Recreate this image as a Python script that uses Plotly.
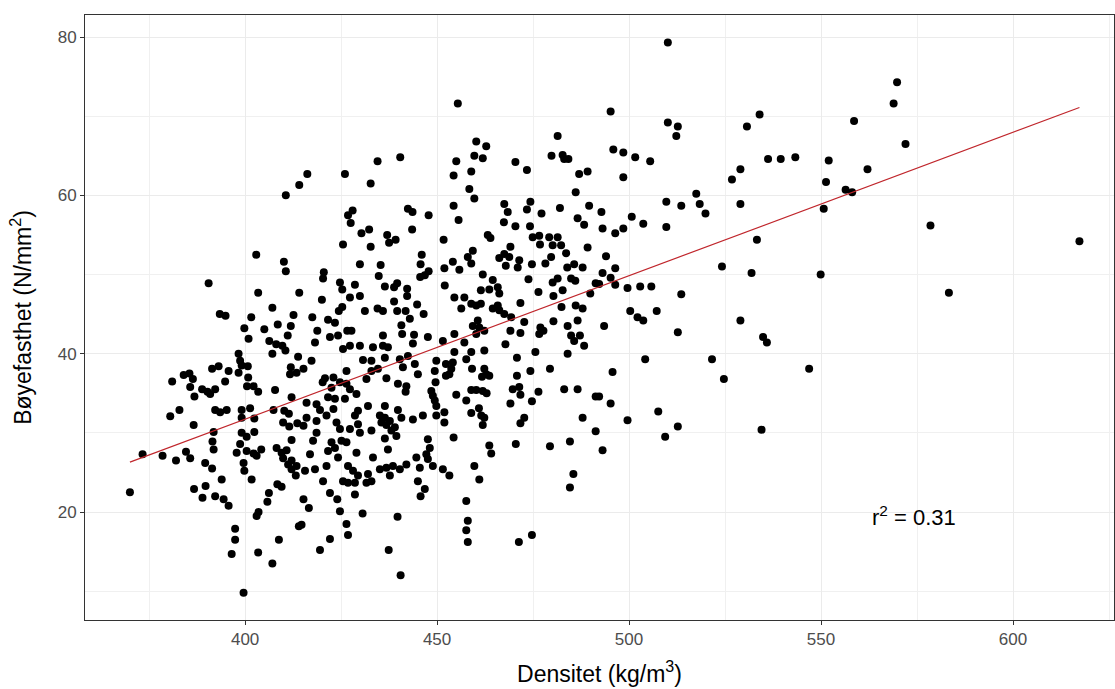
import plotly.graph_objects as go

# ---- data ----
density = [
410.6,414.1,402.9,410.1,410.6,390.5,403.4,414.1,407.1,393.4,394.9,401.6,412.6,408.5,411.9,399.8,405.0,400.9,411.1,406.3,
408.1,409.7,410.5,407.1,413.8,398.3,398.7,399.1,400.7,393.1,391.4,395.7,398.3,411.9,411.7,413.4,384.0,385.5,386.4,381.0,
394.8,400.8,400.5,402.2,385.7,388.8,390.2,392.2,390.9,386.8,403.4,407.8,412.1,
382.9,380.5,386.6,392.2,393.5,395.2,399.1,401.3,399.1,402.4,407.4,410.2,411.4,409.9,411.5,413.6,391.8,399.1,402.4,400.4,
412.1,391.5,373.3,378.5,382.0,384.6,385.7,391.8,397.8,398.7,400.4,402.2,404.2,403.0,408.2,409.5,410.8,409.9,412.1,411.2,
413.4,412.1,413.2,389.6,391.4,399.6,399.8,393.9,401.7,386.7,389.7,388.9,392.2,394.4,395.7,370.0,406.2,408.4,409.5,405.8,
403.5,403.0,397.4,397.4,396.5,403.4,408.8,407.1,414.0,399.6,
416.2,426.0,434.5,440.4,432.7,428.0,426.8,427.5,430.3,432.3,425.5,432.7,437.0,437.5,439.2,442.4,443.6,447.8,443.5,451.7,
446.0,445.7,447.8,446.8,445.6,451.9,452.0,429.9,435.3,434.8,420.5,420.3,424.7,425.3,428.6,436.4,438.8,439.6,442.2,442.2,
420.0,427.3,429.9,438.8,444.8,424.4,425.3,431.2,434.5,435.9,439.6,441.8,446.5,417.5,421.6,423.4,440.7,442.9,418.8,426.6,
427.7,418.2,422.1,424.2,435.9,440.9,444.0,443.7,447.6,427.3,429.9,433.3,435.9,437.2,425.5,451.5,
417.3,415.2,420.8,420.2,423.0,426.4,424.7,422.5,426.4,427.3,429.0,426.0,423.4,421.6,418.6,416.0,419.5,423.0,421.2,418.6,
416.0,415.2,423.8,424.7,427.3,429.4,428.6,429.4,432.0,430.7,432.9,436.4,440.3,442.4,444.2,445.0,441.1,434.6,432.9,436.8,
431.6,439.8,442.0,441.8,449.8,452.3,449.4,452.3,449.6,448.5,448.9,449.4,449.8,451.9,449.8,451.9,446.3,443.7,439.8,440.7,
436.4,435.1,436.4,437.7,435.5,436.8,439.0,438.1,432.9,429.9,439.4,436.4,418.6,417.7,422.5,425.1,426.4,423.4,421.6,416.9,
424.2,429.0,433.3,437.2,444.6,447.6,448.1,447.2,447.6,448.9,445.5,451.5,421.2,418.2,415.6,426.8,428.1,429.4,432.0,435.1,
436.8,438.5,440.3,442.0,437.7,
420.3,425.5,426.8,428.6,431.6,432.9,445.0,446.8,445.7,415.2,416.6,422.1,424.0,428.6,424.7,430.6,439.7,414.7,426.4,426.8,
422.1,419.5,437.4,440.5,
455.4,481.4,460.2,462.8,455.0,459.7,461.9,470.4,473.4,479.8,482.7,483.1,484.2,454.3,458.9,487.0,489.2,458.4,459.7,486.1,
454.3,467.5,468.4,474.3,473.4,477.2,482.0,489.6,455.6,467.4,470.4,474.2,486.6,488.3,463.2,463.9,474.9,476.6,476.8,479.2,
480.1,481.4,482.3,483.6,489.2,469.1,459.3,458.0,458.9,454.1,455.8,466.2,467.5,468.8,467.9,471.4,471.0,474.7,478.2,479.7,
483.9,485.7,487.9,461.9,464.5,473.8,480.1,481.4,484.9,486.0,461.4,463.6,465.8,466.2,454.5,457.1,476.4,482.7,480.3,491.3,
489.9,
456.3,458.9,460.2,461.4,464.5,465.8,466.2,467.5,469.3,471.7,472.7,459.3,460.6,461.0,462.3,460.2,454.5,457.1,469.1,471.7,
467.8,476.9,477.7,476.6,480.3,482.4,486.1,487.9,486.6,484.0,484.9,485.7,487.2,488.3,454.5,458.9,457.6,462.3,454.1,453.7,
453.2,459.1,462.3,462.8,461.7,463.6,470.8,475.6,484.0,474.3,479.4,470.8,458.9,460.2,461.9,462.9,455.0,469.7,471.4,471.7,
476.4,483.1,486.6,491.3,457.6,469.1,474.7,460.9,458.9,461.5,462.3,461.9,472.7,471.7,487.9,454.3,463.6,464.1,470.5,479.4,
484.6,491.3,459.7,
453.2,461.0,457.6,458.0,457.6,458.0,471.3,474.7,485.5,484.6,
510.1,495.2,510.1,512.7,512.3,534.0,530.7,495.9,498.5,501.6,505.5,536.2,539.5,543.3,498.5,526.8,529.0,517.5,518.4,519.9,
509.7,513.6,529.0,492.8,500.7,503.7,509.7,493.1,496.4,498.5,533.3,494.0,496.4,493.1,495.2,492.2,496.4,499.6,502.9,505.8,
513.6,524.2,531.9,
500.3,502.2,503.7,507.2,493.5,512.7,529.0,534.9,535.9,504.2,521.6,524.7,495.7,492.2,495.2,499.6,507.6,512.7,509.4,493.1,
534.5,
569.8,568.9,558.6,572.0,552.0,562.1,551.3,556.4,558.1,550.7,578.5,617.3,549.9,583.3,546.9,
]

strength = [
60.0,61.3,52.5,51.6,50.4,48.9,47.7,47.7,45.8,45.0,44.8,44.6,44.9,43.7,43.5,43.2,43.1,41.9,42.3,41.6,
41.2,41.0,40.4,40.0,39.6,40.0,39.1,38.5,38.4,38.4,38.1,37.8,37.6,38.3,37.4,37.6,37.3,37.5,36.8,36.5,
36.5,37.0,35.9,35.9,35.8,35.5,35.2,35.5,34.9,34.6,35.2,35.4,34.5,
32.9,32.1,31.0,32.9,32.6,32.9,32.9,33.1,31.9,31.8,32.9,32.8,32.4,31.3,30.8,31.2,30.1,30.0,30.1,29.5,
29.1,28.9,27.3,27.1,26.5,27.6,26.8,27.9,27.5,28.6,27.7,27.4,27.9,27.1,28.1,27.5,27.8,26.8,26.5,26.0,
25.8,25.4,24.6,26.2,25.5,26.2,25.2,24.1,24.1,22.9,23.3,21.8,22.0,21.6,20.8,22.5,22.4,23.5,23.2,21.3,
20.0,19.5,17.9,16.5,14.7,14.9,16.5,13.5,18.2,9.8,
62.7,62.7,64.3,64.8,61.5,58.1,57.5,56.5,55.2,55.7,53.8,53.5,55.0,54.0,54.4,58.3,57.9,57.5,55.7,54.4,
52.5,51.3,50.4,49.9,49.7,50.8,48.6,51.3,51.2,49.8,50.3,49.5,49.0,48.1,48.7,48.5,48.4,48.9,48.2,47.3,
46.8,47.1,47.3,46.6,46.2,45.4,45.9,45.4,45.7,45.4,45.4,45.4,45.0,44.6,44.3,43.9,43.6,44.4,42.9,42.9,
42.9,41.4,42.1,42.3,42.3,42.5,42.4,41.3,42.1,41.0,41.0,40.8,41.0,40.8,40.6,41.6,
39.1,38.1,36.9,36.4,37.0,37.8,36.4,35.7,36.2,35.5,34.9,34.3,34.3,34.5,33.6,33.8,32.9,33.0,32.2,31.5,
31.9,30.9,31.3,30.5,30.5,31.1,32.2,32.8,33.4,39.2,39.1,39.5,39.3,39.7,38.7,37.4,38.3,38.1,37.8,36.9,
36.8,36.2,35.9,35.2,39.1,38.7,37.8,37.2,36.4,35.3,34.7,34.1,33.4,32.6,32.2,31.3,32.2,31.7,32.9,31.9,
33.4,32.2,31.9,31.5,31.3,31.0,30.7,30.3,30.3,30.0,29.6,29.3,30.0,29.0,28.8,29.0,28.8,28.1,27.7,27.3,
26.9,27.5,26.9,27.9,26.9,29.2,28.1,27.3,26.7,25.8,25.6,25.4,25.8,25.4,25.2,25.8,25.2,24.6,24.8,25.4,
25.6,25.8,25.4,26.0,24.6,
23.9,23.9,23.7,23.7,23.7,23.9,23.9,22.9,22.0,21.6,20.5,22.4,21.6,22.2,20.1,19.8,19.4,18.4,18.5,17.1,
16.6,15.2,15.2,12.0,
71.6,67.5,66.8,66.2,64.3,65.0,64.7,64.2,63.2,65.0,65.1,64.6,64.6,62.5,63.0,62.7,63.0,60.8,59.6,60.4,
58.7,58.9,57.9,59.2,58.2,57.7,58.4,58.7,56.9,56.6,56.1,56.1,57.1,56.3,55.0,54.6,54.7,54.9,53.8,54.7,
53.7,54.7,53.7,52.7,53.4,53.5,53.0,52.2,51.4,51.6,50.6,52.1,52.6,52.2,51.1,51.8,50.9,51.3,51.4,52.2,
50.9,51.3,50.9,50.0,49.3,49.4,49.0,49.5,49.5,49.2,48.0,48.1,48.4,47.6,47.1,47.1,47.8,48.0,47.3,48.9,
47.6,
45.7,46.3,46.1,46.3,45.7,46.1,45.5,45.0,44.6,46.4,44.0,43.5,44.2,43.3,42.9,42.5,42.5,41.4,42.9,42.6,
41.2,43.3,42.9,42.5,44.1,45.9,46.1,45.7,44.2,43.5,42.3,41.6,42.3,41.0,40.2,40.2,39.3,40.4,38.9,38.1,
37.4,38.1,38.1,37.4,37.1,37.2,39.5,40.2,40.0,37.8,38.1,37.2,35.4,35.4,35.3,35.0,34.8,35.5,35.8,34.8,
35.2,35.5,35.5,34.6,34.1,33.7,34.0,33.1,32.5,32.2,31.9,31.0,31.9,31.2,31.9,29.4,28.4,27.4,28.6,28.3,
28.9,30.2,25.8,
24.6,24.1,21.4,18.9,17.7,16.2,16.2,17.1,24.8,23.1,
79.3,70.6,69.2,68.7,67.5,70.2,68.7,65.8,65.4,64.8,64.3,64.6,64.6,64.8,62.3,62.0,63.3,60.2,58.9,57.7,
59.2,58.7,58.9,57.9,57.3,56.4,56.0,55.8,55.2,55.8,54.4,52.3,50.8,50.2,49.6,48.8,48.7,48.3,48.5,48.5,
47.5,51.0,50.2,
45.4,44.6,44.2,45.4,43.5,42.7,44.2,42.1,41.4,39.3,39.3,36.8,37.7,34.6,33.7,31.6,32.7,30.8,29.5,27.8,
30.4,
74.3,71.6,69.4,66.5,64.4,63.3,61.7,60.7,60.4,58.3,56.2,54.2,50.0,47.7,38.1,
]

# fitted regression line
fit_intercept = -40.73
fit_slope = 0.18116
r2_label = "r<sup>2</sup> = 0.31"
r2_pos = (574.3, 19.5)

x_ticks = [400, 450, 500, 550, 600]
y_ticks = [20, 40, 60, 80]

line_x = [min(density), max(density)]
line_y = [fit_intercept + fit_slope * v for v in line_x]

FONT = "Liberation Sans, Arial, sans-serif"

fig = go.Figure()
fig.add_trace(go.Scatter(x=density, y=strength, mode="markers",
                         marker=dict(color="black", size=8, line=dict(width=0)),
                         showlegend=False, hoverinfo="x+y"))
fig.add_trace(go.Scatter(x=line_x, y=line_y, mode="lines",
                         line=dict(color="#C0262C", width=1.2),
                         showlegend=False))

fig.add_annotation(x=r2_pos[0], y=r2_pos[1], text=r2_label, showarrow=False,
                   font=dict(family=FONT, size=22, color="black"),
                   xanchor="center", yanchor="middle")

axis_common = dict(
    showline=True, mirror=True, linecolor="#333333", linewidth=1,
    ticks="outside", ticklen=4, tickcolor="#333333", tickwidth=1,
    tickfont=dict(family=FONT, size=17, color="#4D4D4D"),
    showgrid=True, gridcolor="#EBEBEB", gridwidth=1,
    zeroline=False,
)

fig.update_layout(
    width=1115, height=689,
    margin=dict(l=85, r=1, t=15, b=69),
    paper_bgcolor="white", plot_bgcolor="white",
    font=dict(family=FONT, color="black"),
    showlegend=False,
    xaxis=dict(axis_common, range=[358.3, 626.3], tickvals=x_ticks,
               minor=dict(dtick=25, tick0=0, showgrid=True, gridcolor="#F0F0F0", gridwidth=0.7, ticks=""),
               title=dict(text="Densitet (kg/m<sup>3</sup>)", font=dict(family=FONT, size=23, color="black"),
                          standoff=17),
               automargin=False),
    yaxis=dict(axis_common, range=[6.36, 82.78], tickvals=y_ticks,
               minor=dict(dtick=10, tick0=0, showgrid=True, gridcolor="#F0F0F0", gridwidth=0.7, ticks=""),
               title=dict(text="Bøyefasthet (N/mm<sup>2</sup>)", font=dict(family=FONT, size=23, color="black"),
                          standoff=19),
               automargin=False),
)

fig.write_html("out.html")
